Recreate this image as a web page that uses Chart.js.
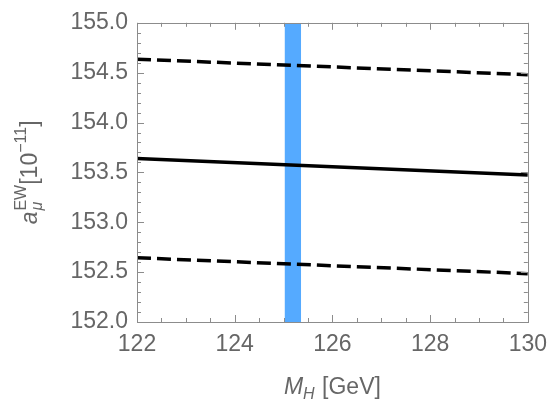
<!DOCTYPE html>
<html><head><meta charset="utf-8">
<script src="https://cdn.jsdelivr.net/npm/chart.js@4.4.0/dist/chart.umd.min.js"></script>
<style>html,body{margin:0;padding:0;background:#fff;}#wrap{width:556px;height:409px;}</style>
</head><body><div id="wrap"><canvas id="c" width="556" height="409"></canvas></div>
<script>
// ---- data ----
const massH = [122, 130];
const central = [153.64, 153.475];
const upperBound = [154.635, 154.48];
const lowerBound = [152.644, 152.485];
const higgsBandX = [125.02, 125.36];
const higgsBandTop = [155, 155];
const xTickValues = [122, 124, 126, 128, 130];
const yTickValues = [152.0, 152.5, 153.0, 153.5, 154.0, 154.5, 155.0];

const FONT = "'Liberation Sans', Arial, Helvetica, sans-serif";
const TXT = '#666666';
const FRAME = '#8c8c8c';

const pts = (xs, ys) => xs.map((x, i) => ({x, y: ys[i]}));

const frameTicks = {
  id: 'frameTicks',
  afterDraw(chart) {
    const ctx = chart.ctx, a = chart.chartArea;
    const xs = chart.scales.x, ys = chart.scales.y;
    ctx.save();
    ctx.strokeStyle = FRAME; ctx.lineWidth = 1;
    ctx.strokeRect(Math.round(a.left) + 0.5, Math.round(a.top) + 0.5,
      Math.round(a.right - a.left), Math.round(a.bottom - a.top));
    ctx.beginPath();
    for (let k = 0; k <= 30; k++) {
      const v = ys.min + k * 0.1;
      const p = Math.round(ys.getPixelForValue(v)) + 0.5;
      const len = (k % 5 === 0) ? 7 : 4;
      ctx.moveTo(a.left, p); ctx.lineTo(a.left + len, p);
      ctx.moveTo(a.right, p); ctx.lineTo(a.right - len, p);
    }
    for (let k = 0; k <= 16; k++) {
      const v = xs.min + k * 0.5;
      const p = Math.round(xs.getPixelForValue(v)) + 0.5;
      const len = (k % 4 === 0) ? 7 : 4;
      ctx.moveTo(p, a.bottom); ctx.lineTo(p, a.bottom - len);
      ctx.moveTo(p, a.top); ctx.lineTo(p, a.top + len);
    }
    ctx.stroke();

    ctx.fillStyle = TXT;
    ctx.textBaseline = 'alphabetic'; ctx.textAlign = 'left';
    const big = 23, small = 16;
    const fBig = (it) => (it ? 'italic ' : '') + big + 'px ' + FONT;
    const fSmall = (it) => (it ? 'italic ' : '') + small + 'px ' + FONT;
    const w = (t, f) => { ctx.font = f; return ctx.measureText(t).width; };

    // x title: M_H [GeV]
    {
      const wM = w('M', fBig(true)), wH = w('H', fSmall(true)), wG = w(' [GeV]', fBig(false));
      const total = wM + wH + 1 + wG;
      let x = (a.left + a.right) / 2 - total / 2;
      const y = 394;
      ctx.font = fBig(true); ctx.fillText('M', x, y); x += wM;
      ctx.font = fSmall(true); ctx.fillText('H', x, y + 5); x += wH + 1;
      ctx.font = fBig(false); ctx.fillText(' [GeV]', x, y);
    }
    // y title: a_mu^EW [10^-11]
    {
      ctx.save();
      const cy = (a.top + a.bottom) / 2;
      const wa = w('a', fBig(true)), wEW = w('EW', fSmall(false)), wmu = w('\u03bc', fSmall(true));
      const wb = w('[10', fBig(false)), wexp = w('\u221211', fSmall(false)), wc = w(']', fBig(false));
      const total = wa + 1 + Math.max(wEW, wmu) + wb + wexp + wc;
      ctx.translate(37, cy + total / 2);
      ctx.rotate(-Math.PI / 2);
      let x = 0;
      ctx.font = fBig(true); ctx.fillText('a', x, 0); x += wa + 1;
      ctx.font = fSmall(false); ctx.fillText('EW', x, -11);
      ctx.font = fSmall(true); ctx.fillText('\u03bc', x, 5);
      x += Math.max(wEW, wmu);
      ctx.font = fBig(false); ctx.fillText('[10', x, 0); x += wb;
      ctx.font = fSmall(false); ctx.fillText('\u221211', x, -11); x += wexp;
      ctx.font = fBig(false); ctx.fillText(']', x, 0);
      ctx.restore();
    }
    ctx.restore();
  }
};

new Chart(document.getElementById('c'), {
  type: 'line',
  data: {
    datasets: [
      { label: 'central', data: pts(massH, central), borderColor: '#000', borderWidth: 3.5,
        pointRadius: 0, fill: false, order: 1, borderCapStyle: 'butt' },
      { label: 'upper', data: pts(massH, upperBound), borderColor: '#000', borderWidth: 3.5,
        borderDash: [14, 6], pointRadius: 0, fill: false, order: 1, borderCapStyle: 'butt' },
      { label: 'lower', data: pts(massH, lowerBound), borderColor: '#000', borderWidth: 3.5,
        borderDash: [14, 6], pointRadius: 0, fill: false, order: 1, borderCapStyle: 'butt' },
      { label: 'MH band', data: pts(higgsBandX, higgsBandTop), borderWidth: 0, borderColor: 'rgba(0,0,0,0)',
        backgroundColor: '#55aaff', pointRadius: 0, fill: 'start', order: 10 }
    ]
  },
  options: {
    responsive: false, animation: false, devicePixelRatio: 1,
    layout: { padding: { top: 15, right: 21, left: 0, bottom: 0 } },
    plugins: { legend: { display: false }, tooltip: { enabled: false } },
    scales: {
      x: {
        type: 'linear', min: 122, max: 130,
        afterFit: s => { s.height = 87; },
        afterBuildTicks: s => { s.ticks = xTickValues.map(v => ({value: v})); },
        grid: { display: false, drawTicks: false }, border: { display: false },
        ticks: { padding: 9, color: TXT, font: { family: FONT, size: 23 }, maxRotation: 0,
          callback: v => String(v) }
      },
      y: {
        type: 'linear', min: 152, max: 155,
        afterFit: s => { s.width = 137; },
        afterBuildTicks: s => { s.ticks = yTickValues.map(v => ({value: v})); },
        grid: { display: false, drawTicks: false }, border: { display: false },
        ticks: { padding: 9, color: TXT, font: { family: FONT, size: 23 },
          callback: v => Number(v).toFixed(1) }
      }
    }
  },
  plugins: [frameTicks]
});
</script></body></html>
